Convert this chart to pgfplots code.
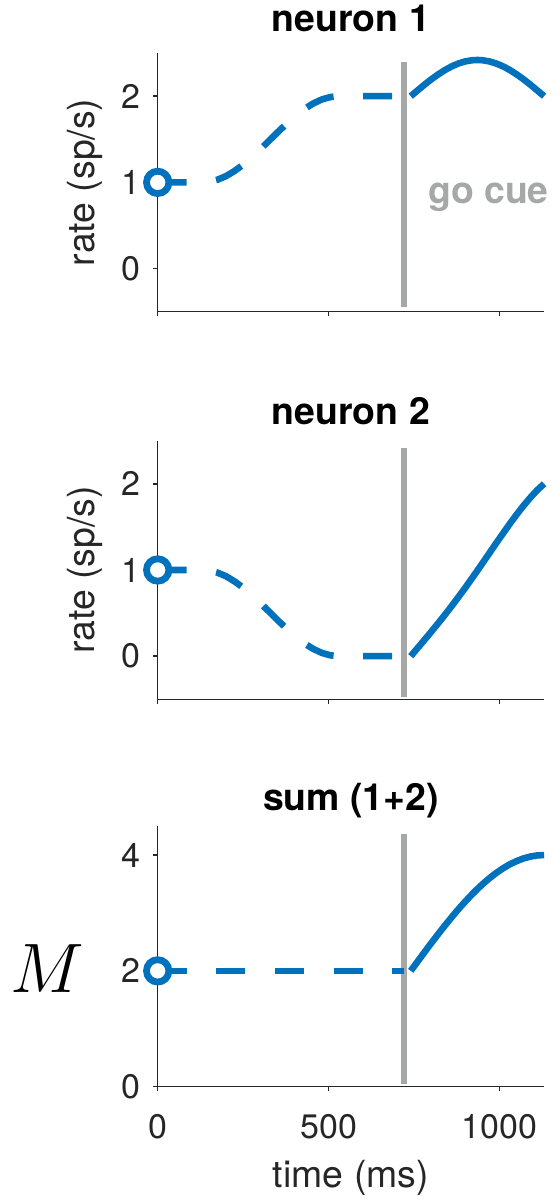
\documentclass[border=0pt]{standalone}
\usepackage{fix-cm}
\usepackage{fontspec}
\setmainfont{TeX Gyre Heros}
\usepackage{pgfplots}
\pgfplotsset{compat=1.18}
\definecolor{mblue}{HTML}{0072BD}
\definecolor{cuegray}{HTML}{A6A8A7}
\definecolor{axgray}{HTML}{262626}
\pgfplotsset{
  panel/.style={
    scale only axis, width=193.2pt, height=129.3pt,
    xmin=0, xmax=1130,
    axis lines=left, axis line style={-, color=axgray, line width=0.75pt},
    tick align=outside, major tick length=2.3pt,
    tick style={color=axgray, line width=0.75pt},
    xtick={0,500,1000},
    ticklabel style={font=\fontsize{17}{20}\selectfont, text=axgray},
    /pgf/number format/assume math mode=true,
    /pgf/number format/1000 sep={},
    yticklabel style={xshift=-3pt},
    xticklabel style={yshift=-8pt},
    title style={font=\fontsize{18.7}{22}\selectfont\bfseries, at={(0.5,1)}, anchor=base, yshift=2pt},
    label style={font=\fontsize{18.7}{22}\selectfont, text=axgray},
    clip=false,
  },
  solidb/.style={mblue, line width=3.3pt, no markers, line cap=butt},
  dashedb/.style={mblue, line width=3.3pt, no markers, line cap=butt, dash pattern=on 14.5pt off 14.8pt},
  cue/.style={cuegray, line width=2.7pt, no markers},
  startmark/.style={only marks, mark=*, mark size=5.6pt, mark options={draw=mblue, fill=white, line width=3.4pt, solid}},
}
\begin{document}
\begin{tikzpicture}
\useasboundingbox (0,0) rectangle (279pt,601pt);
% ---------- neuron 1
\begin{axis}[panel, at={(78.85pt,445.15pt)}, anchor=south west,
  ymin=-0.5, ymax=2.5, ytick={0,1,2}, xticklabels={},
  title={neuron 1}, title style={yshift=3pt},
  ylabel={rate (sp/s)}, ylabel style={at={(axis description cs:-0.188,0.5)}, anchor=center}]
\addplot[cue] coordinates {(720,-0.45) (720,2.4)};
\addplot[dashedb] coordinates {(0,1)(130,1)(150,1.006)(175,1.031)(200,1.073)(225,1.133)(250,1.206)(275,1.290)(300,1.383)(330,1.5)(355,1.598)(380,1.691)(405,1.778)(430,1.854)(455,1.916)(480,1.962)(505,1.990)(530,2)(720,2)};
\addplot[solidb] coordinates {(740,2.000)(760,2.067)(780,2.133)(800,2.195)(820,2.252)(840,2.303)(860,2.346)(880,2.380)(900,2.404)(920,2.417)(935,2.420)(950,2.417)(970,2.403)(990,2.379)(1010,2.346)(1030,2.303)(1050,2.252)(1070,2.195)(1090,2.133)(1110,2.067)(1130,2.000)};
\addplot[startmark] coordinates {(0,1)};
\node[anchor=base west, inner sep=0pt, text=cuegray, font=\fontsize{18.7}{22}\selectfont\bfseries] at (axis cs:790,0.76) {go cue};
\end{axis}
% ---------- neuron 2
\begin{axis}[panel, at={(78.85pt,251.35pt)}, anchor=south west,
  ymin=-0.5, ymax=2.5, ytick={0,1,2}, xticklabels={},
  title={neuron 2},
  ylabel={rate (sp/s)}, ylabel style={at={(axis description cs:-0.188,0.5)}, anchor=center}]
\addplot[cue] coordinates {(720,-0.47) (720,2.41)};
\addplot[dashedb] coordinates {(0,1)(130,1)(150,0.994)(175,0.969)(200,0.927)(225,0.867)(250,0.794)(275,0.710)(300,0.617)(330,0.5)(355,0.402)(380,0.309)(405,0.222)(430,0.146)(455,0.084)(480,0.038)(505,0.010)(530,0)(720,0)};
\addplot[solidb] coordinates {(740,0)(760,0.094)(780,0.188)(800,0.284)(820,0.381)(840,0.481)(860,0.583)(880,0.689)(900,0.797)(920,0.909)(935,0.994)(950,1.080)(970,1.196)(990,1.312)(1010,1.425)(1030,1.538)(1050,1.645)(1070,1.747)(1090,1.841)(1110,1.927)(1130,2)};
\addplot[startmark] coordinates {(0,1)};
\end{axis}
% ---------- sum
\begin{axis}[panel, at={(78.85pt,57.65pt)}, anchor=south west,
  height=130.3pt,
  ymin=0, ymax=4.5, ytick={0,2,4},
  title={sum (1+2)},
  xlabel={time (ms)}, xlabel style={yshift=-4pt},
  ylabel={$M$}, ylabel style={at={(axis description cs:-0.285,0.452)}, anchor=center, rotate=-90, font=\fontsize{35}{40}\selectfont, text=black}]
\addplot[cue] coordinates {(720,0.05) (720,4.36)};
\addplot[dashedb] coordinates {(0,2)(720,2)};
\addplot[solidb] coordinates {(740,2)(760,2.161)(780,2.321)(800,2.479)(820,2.633)(840,2.784)(860,2.929)(880,3.069)(900,3.201)(920,3.326)(935,3.414)(950,3.497)(970,3.599)(990,3.691)(1010,3.771)(1030,3.841)(1050,3.897)(1070,3.942)(1090,3.974)(1110,3.994)(1130,4)};
\addplot[startmark] coordinates {(0,2)};
\end{axis}
\end{tikzpicture}
\end{document}
